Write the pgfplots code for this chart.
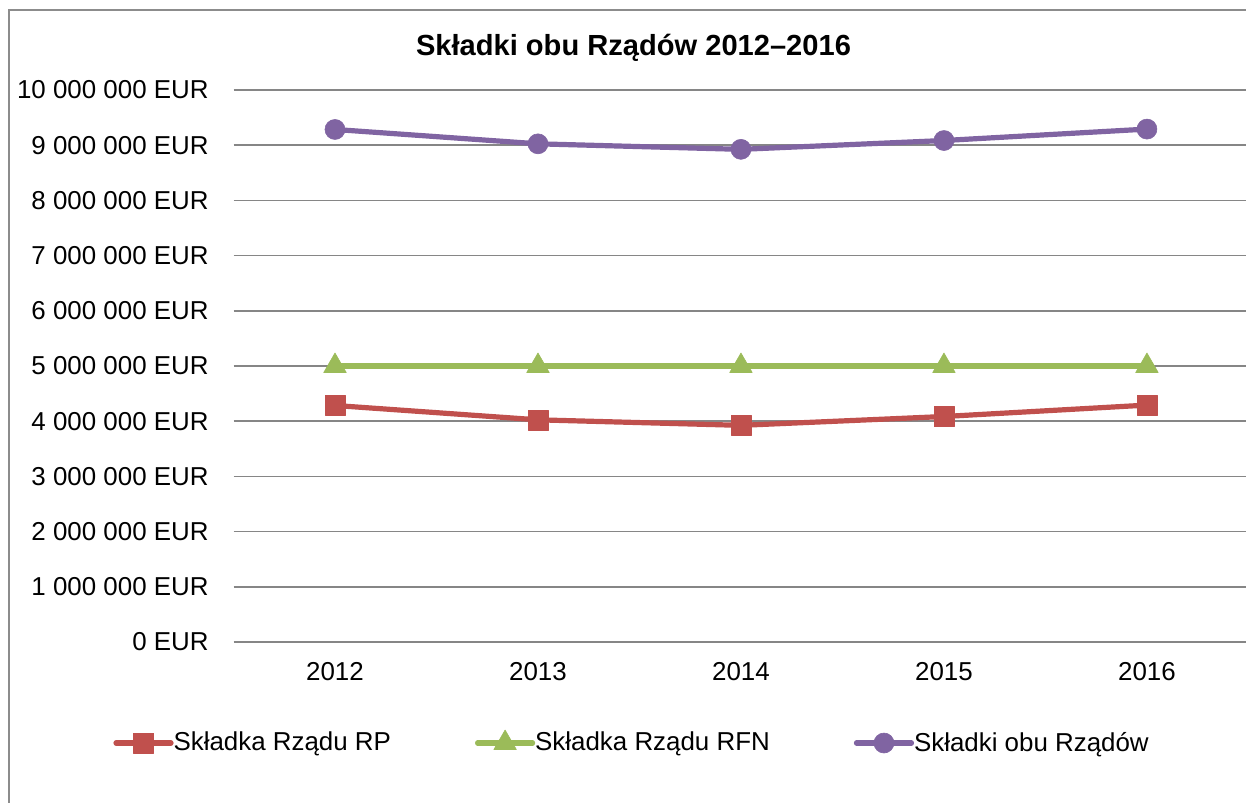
\documentclass[border=0pt]{standalone}
\usepackage{fontspec}
\setmainfont{Liberation Sans}
\usepackage{pgfplots}
\pgfplotsset{compat=1.18}
\definecolor{rpred}{HTML}{C0504D}
\definecolor{rfngreen}{HTML}{9BBB59}
\definecolor{bothpurple}{HTML}{8064A2}
\definecolor{gridgray}{HTML}{868686}
\definecolor{framegray}{HTML}{8C8C8C}
\begin{document}
\begin{tikzpicture}
\path[use as bounding box] (0,0) rectangle (623bp,-401.5bp);
\begin{scope}
\clip (0,0) rectangle (623bp,-401.5bp);
\draw[framegray, line width=0.75bp] (4.5bp,-5bp) rectangle (700bp,-450bp);
\end{scope}
\node[font=\fontsize{14.6}{17}\selectfont\bfseries, anchor=base, inner sep=0pt] at (316.75bp,-27.5bp) {Składki obu Rządów 2012–2016};
\begin{axis}[
  at={(116.75bp,-321bp)}, anchor=south west,
  scale only axis, width=506.25bp, height=276bp,
  xmin=2011.5, xmax=2016.488, ymin=0, ymax=10000000,
  axis line style={draw=none},
  major tick length=0pt,
  ymajorgrids,
  major grid style={gridgray, line width=0.75bp},
  xtick={2012,2013,2014,2015,2016},
  xticklabels={2012,2013,2014,2015,2016},
  ytick={0,1000000,2000000,3000000,4000000,5000000,6000000,7000000,8000000,9000000,10000000},
  yticklabels={0 EUR,1 000 000 EUR,2 000 000 EUR,3 000 000 EUR,4 000 000 EUR,5 000 000 EUR,6 000 000 EUR,7 000 000 EUR,8 000 000 EUR,9 000 000 EUR,10 000 000 EUR},
  scaled y ticks=false,
  tick label style={font=\fontsize{13}{15}\selectfont},
  yticklabel style={anchor=east, inner sep=0pt, xshift=-12.25bp},
  xticklabel style={anchor=north, inner sep=0pt, yshift=-10bp},
  legend columns=3,
  legend style={at={(-0.119,-0.1812)}, anchor=west, draw=none, fill=none,
    inner sep=0pt, nodes={inner sep=0pt}, font=\fontsize{13}{15}\selectfont,
    column sep=0pt,
    /tikz/every even column/.append style={column sep=42bp}},
  legend image code/.code={\draw[#1, mark repeat=2, mark phase=2, line cap=round] plot coordinates {(0bp,0bp) (13.75bp,0bp) (27.5bp,0bp)};},
  clip=false,
]
\addplot[rpred, line width=2.6bp, line join=round, mark=square*, mark size=5bp,
  mark options={solid, fill=rpred, draw=rpred, line width=0.3bp}]
  coordinates {(2012,4285000) (2013,4025000) (2014,3925000) (2015,4085000) (2016,4292000)};
\addlegendentry{Składka Rządu RP}
\addplot[rfngreen, line width=2.6bp, line join=round, mark=triangle*, mark size=6.5bp,
  mark options={solid, fill=rfngreen, draw=rfngreen, line width=0.3bp}]
  coordinates {(2012,5000000) (2013,5000000) (2014,5000000) (2015,5000000) (2016,5000000)};
\addlegendentry{Składka Rządu RFN}
\addplot[bothpurple, line width=2.6bp, line join=round, mark=*, mark size=5bp,
  mark options={solid, fill=bothpurple, draw=bothpurple, line width=0.3bp}]
  coordinates {(2012,9285000) (2013,9025000) (2014,8925000) (2015,9085000) (2016,9292000)};
\addlegendentry{Składki obu Rządów}
\end{axis}
\end{tikzpicture}
\end{document}
